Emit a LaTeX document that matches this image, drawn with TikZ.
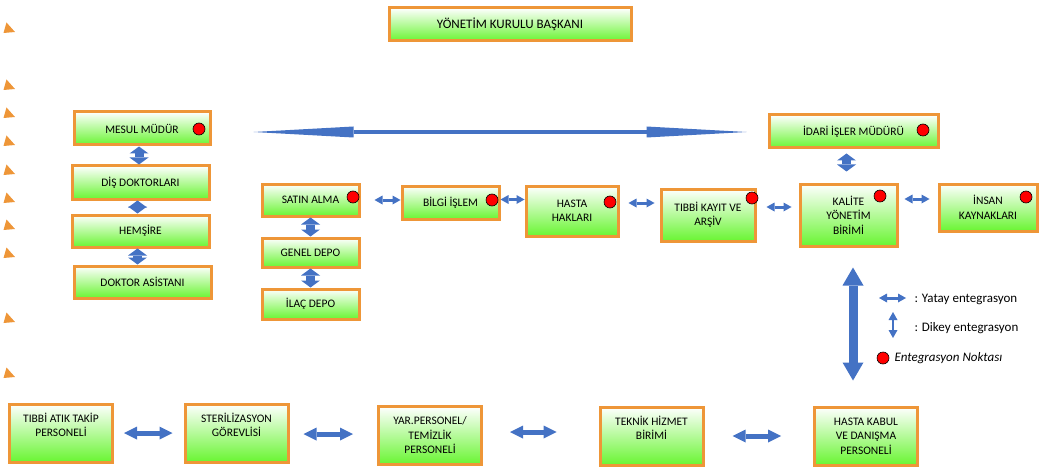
\documentclass[tikz,border=0pt]{standalone}
\usepackage{fontspec}
\setmainfont{Carlito}
\usepackage{tikz}
\usetikzlibrary{arrows.meta}
\definecolor{kenar}{RGB}{238,150,56}
\definecolor{yesil}{RGB}{105,245,50}
\definecolor{mavi}{RGB}{68,114,196}

\tikzset{
  kutu/.style={draw=kenar, line width=3pt, top color=white, bottom color=yesil,
    align=center, inner sep=2pt, font=\fontsize{11.5}{14.5}\selectfont},
  altkutu/.style={kutu, minimum width=103, minimum height=58},
  ikisatir/.style={altkutu, text height=25.5, text depth=18.5},
  ucsatir/.style={altkutu, text height=40, text depth=4},
  nokta/.style={circle, draw=black, line width=0.6pt, fill=red, minimum size=12, inner sep=0pt},
  dikey/.style={mavi, line width=9pt, <->, >={Triangle[length=7pt,width=19pt,line width=0pt]}},
  kucukok/.style={mavi, line width=3pt, <->, >={Triangle[length=8pt,width=9pt,line width=0pt]}},
  altok/.style={mavi, line width=5pt, <->, >={Triangle[length=13pt,width=13pt,line width=0pt]}},
  buyukok/.style={mavi, line width=9pt, <->, >={Triangle[length=18pt,width=21pt,line width=0pt]}},
  uzunok/.style={mavi, line width=4.5pt, <->, >={Triangle[length=100pt,width=11pt,line width=0pt]}},
  lejant/.style={anchor=west, font=\fontsize{13}{15}\selectfont}
}

\begin{document}
\begin{tikzpicture}[x=1pt, y=-1pt]
\useasboundingbox (0,0) rectangle (1048,473);

% Puces orange à gauche
\foreach \y in {28,85,113,141,170,198,225,253,318,373}
  \fill[kenar] (6.5,\y-5.5) -- (15,\y+4) -- (3.5,\y+5) -- cycle;

% Président
\node[kutu, minimum width=242, minimum height=33, font=\fontsize{13}{16}\selectfont] (baskan) at (510,24.5) {YÖNETİM KURULU BAŞKANI};

% Colonne de gauche
\node[kutu, minimum width=136, minimum height=33] (mesul) at (142,128.5) {MESUL MÜDÜR};
\node[kutu, minimum width=137, minimum height=33] (dis) at (140.5,182.5) {DİŞ DOKTORLARI};
\node[kutu, minimum width=137, minimum height=32] (hemsire) at (140.5,231) {HEMŞİRE};
\node[kutu, minimum width=137, minimum height=32] (asistan) at (142.5,282) {DOKTOR ASİSTANI};

% Achats et dépôts
\node[kutu, minimum width=97, minimum height=32] (satin) at (310.5,200) {SATIN ALMA};
\node[kutu, minimum width=97, minimum height=29] (genel) at (310.5,252.5) {GENEL DEPO};
\node[kutu, minimum width=97, minimum height=30] (ilac) at (310.5,304) {İLAÇ DEPO};

% Ligne du milieu
\node[kutu, minimum width=97, minimum height=33] (bilgi) at (450.5,202.5) {BİLGİ İŞLEM};
\node[kutu, minimum width=92, minimum height=50] (hastahak) at (572,211) {HASTA\\HAKLARI};
\node[kutu, minimum width=94, minimum height=52] (tibbi) at (708,215) {TIBBİ KAYIT VE\\ARŞİV};
\node[kutu, minimum width=97, minimum height=62] (kalite) at (848.5,215) {KALİTE\\YÖNETİM\\BİRİMİ};
\node[kutu, minimum width=98, minimum height=47] (insan) at (988,207.5) {İNSAN\\KAYNAKLARI};
\node[kutu, minimum width=169, minimum height=33] (idari) at (853.5,131.5) {İDARİ İŞLER MÜDÜRÜ};

% Ligne du bas
\node[ikisatir] (atik) at (61,433) {TIBBİ ATIK TAKİP\\PERSONELİ};
\node[ikisatir] (steril) at (236.5,433) {STERİLİZASYON\\GÖREVLİSİ};
\node[ucsatir] (yar) at (430,435.5) {YAR.PERSONEL/\\TEMİZLİK\\PERSONELİ};
\node[ikisatir] (teknik) at (651.5,436) {TEKNİK HİZMET\\BİRİMİ};
\node[ucsatir] (kabul) at (866,436) {HASTA KABUL\\VE DANIŞMA\\PERSONELİ};

% Points d'intégration
\node[nokta] (n1) at (199,129) {};
\node[nokta] (n2) at (353,197) {};
\node[nokta] (n3) at (492,200) {};
\node[nokta] (n4) at (610,202) {};
\node[nokta] (n5) at (752,198) {};
\node[nokta] (n6) at (880,196) {};
\node[nokta] (n7) at (1026,197) {};
\node[nokta] (n8) at (923,130) {};

% Flèches verticales
\draw[dikey] ([xshift=-3]mesul.south) -- ([xshift=-3]mesul.south |- dis.north);
\draw[dikey] ([xshift=-3]dis.south) -- ([xshift=-3]dis.south |- hemsire.north);
\draw[dikey] ([xshift=-3]hemsire.south) -- ([xshift=-3]hemsire.south |- asistan.north);
\draw[dikey] (satin.south) -- (genel.north);
\draw[dikey] (genel.south) -- (ilac.north);
\draw[dikey, shorten <=4pt, shorten >=11pt] ([xshift=-7]idari.south) -- ([xshift=-7]idari.south |- kalite.north);

% Flèches horizontales
\draw[kucukok, shorten <=14pt] (satin.east) -- (satin.east -| bilgi.west);
\draw[kucukok] ([yshift=3]bilgi.east) -- ([yshift=3]bilgi.east -| hastahak.west);
\draw[kucukok, shorten <=9pt, shorten >=5pt] ([yshift=8]hastahak.east) -- ([yshift=8]hastahak.east -| tibbi.west);
\draw[kucukok, shorten <=10pt, shorten >=7pt] ([yshift=8]tibbi.east) -- ([yshift=8]tibbi.east -| kalite.west);
\draw[kucukok, shorten <=6pt, shorten >=8pt] ([yshift=16]kalite.east) -- ([yshift=16]kalite.east -| insan.west);

% Grandes flèches
\draw[uzunok, shorten <=42pt, shorten >=21pt] ([yshift=-3.5]mesul.east) -- ([yshift=-3.5]mesul.east -| idari.west);
\draw[buyukok, shorten <=20pt, shorten >=25pt] ([xshift=4.5]kalite.south) -- ([xshift=4.5]kalite.south |- kabul.north);

% Flèches du bas
\draw[altok, shorten <=10pt, shorten >=11pt] (atik.east) -- (atik.east -| steril.west);
\draw[altok, shorten <=14pt, shorten >=24pt] ([yshift=-1]steril.east) -- ([yshift=-1]steril.east -| yar.west);
\draw[altok, shorten <=27pt, shorten >=42pt] ([yshift=3.5]yar.east) -- ([yshift=3.5]yar.east -| teknik.west);
\draw[altok, shorten <=28pt, shorten >=32pt] (teknik.east) -- (teknik.east -| kabul.west);

% Légende
\coordinate (ly1) at (879,298);
\coordinate (ly2) at (906,298);
\coordinate (ld1) at (893,312);
\coordinate (ld2) at (893,338);
\draw[kucukok] (ly1) -- (ly2);
\draw[kucukok, line width=2.5pt] (ld1) -- (ld2);
\node[lejant] (l1) at (911,299) {: Yatay entegrasyon};
\node[lejant] (l2) at (911,328) {: Dikey entegrasyon};
\node[nokta] (ln) at (883,358) {};
\node[lejant, font=\fontsize{13}{15}\selectfont\itshape] (l3) at (891,358) {Entegrasyon Noktası};
\end{tikzpicture}
\end{document}
